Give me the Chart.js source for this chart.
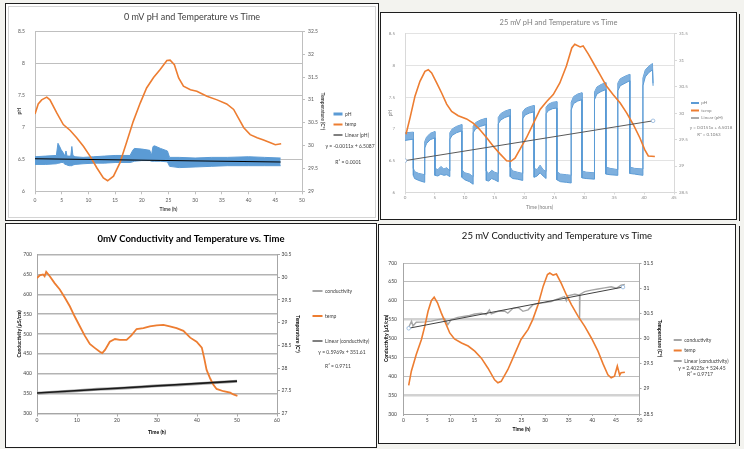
<!DOCTYPE html>
<html><head><meta charset="utf-8">
<script src="https://cdn.jsdelivr.net/npm/chart.js@4/dist/chart.umd.min.js"></script>
<style>
html,body{margin:0;padding:0;width:744px;height:449px;overflow:hidden;background:#f3f3ef;}
.panel{position:absolute;background:#fff;border:1px solid #1e1e1e;box-sizing:border-box;}
.panel canvas{position:absolute;left:0;top:0;}
.inner{position:absolute;left:2px;top:2px;right:2px;bottom:2px;border:1px solid #d4d4d4;}
.vline{position:absolute;border-left:1px solid #1e1e1e;width:0;}
</style></head><body>
<div class="panel" style="left:5px;top:3px;width:374px;height:218px"><div class="inner"></div><canvas id="c1" width="372" height="216"></canvas></div>
<div class="panel" style="left:380px;top:12px;width:357px;height:208px"><canvas id="c2" width="355" height="206"></canvas></div>
<div class="vline" style="left:739px;top:14px;height:207px"></div>
<div class="panel" style="left:5px;top:223px;width:372px;height:225px"><canvas id="c3" width="370" height="223"></canvas></div>
<div class="panel" style="left:378px;top:224px;width:358px;height:220px"><canvas id="c4" width="356" height="218"></canvas></div>
<div class="vline" style="left:739px;top:226px;height:220px"></div>
<script>
// ---------- Panel 1: 0 mV pH and Temperature vs Time ----------
const p1TempTime = [0,0.6,1.25,2.2,2.8,4.1,5.3,6.6,7.8,9.1,10.3,11.6,12.8,13.6,14.7,15.9,17.2,18.4,19.7,20.9,22.2,23.4,24.7,25.3,26.1,26.9,27.8,29.1,30.3,32.2,34.1,35.9,37.2,38.1,39.1,40.3,41.6,42.8,44.1,45,46.1];
const p1Temp = [30.69,30.91,31.0,31.06,31.0,30.71,30.46,30.33,30.17,29.98,29.77,29.51,29.29,29.23,29.33,29.62,30.09,30.53,30.93,31.26,31.49,31.66,31.86,31.87,31.77,31.48,31.30,31.22,31.19,31.08,31.0,30.91,30.79,30.60,30.39,30.24,30.17,30.12,30.06,30.02,30.04];
const p1PhTime = [0,2,4.0,4.3,4.5,4.9,5.3,5.6,5.8,6.0,6.4,6.7,6.9,7.1,7.5,9,11,13,15,17.8,18.3,18.6,20,21.5,21.8,22.1,22.4,23.5,24.8,25.2,27,30,33,36,40,43,46];
const p1PhHigh = [6.54,6.55,6.56,6.75,6.72,6.65,6.60,6.55,6.63,6.55,6.55,6.55,6.70,6.56,6.54,6.53,6.54,6.55,6.56,6.56,6.64,6.67,6.66,6.64,6.56,6.70,6.71,6.67,6.63,6.53,6.53,6.52,6.53,6.53,6.54,6.53,6.52];
const p1PhLow = [6.42,6.42,6.43,6.44,6.44,6.45,6.45,6.42,6.42,6.41,6.40,6.40,6.40,6.41,6.42,6.43,6.44,6.44,6.45,6.45,6.46,6.47,6.48,6.48,6.47,6.47,6.47,6.47,6.46,6.39,6.37,6.38,6.39,6.40,6.40,6.40,6.40];
const p1TrendTime = [0,46];
const p1Trend = [6.5087,6.4581];
const p1Equation = ['y = -0.0011x + 6.5087','R\u00b2 = 0.0001'];

// ---------- Panel 2: 25 mV pH and Temperature vs Time ----------
const p2TempTime = [0.17,0.84,1.67,2.5,3.34,3.9,4.46,5.3,6.13,6.97,7.8,8.9,10.3,11.4,12.5,13.7,14.8,15.9,17.0,17.7,18.4,19.2,20.3,21.5,22.6,23.7,24.8,25.9,27.0,27.9,28.4,29.3,29.8,30.7,31.8,32.6,33.7,34.8,36.0,37.1,38.2,39.3,40.1,40.7,41.8];
const p2Temp = [29.60,29.91,30.32,30.60,30.79,30.82,30.76,30.57,30.38,30.17,30.03,29.95,29.89,29.81,29.69,29.53,29.37,29.23,29.10,29.09,29.15,29.31,29.53,29.81,30.07,30.22,30.35,30.57,30.89,31.23,31.30,31.25,31.27,31.11,30.89,30.73,30.51,30.35,30.19,30.0,29.78,29.53,29.31,29.19,29.18];
const p2PhTime = [0,1.4,1.4,1.6,2.3,3.3,3.3,3.6,4.2,5.0,5.0,5.5,6.0,6.5,7.0,7.5,7.5,7.9,8.6,9.5,9.5,10.0,10.8,11.4,11.4,11.8,12.6,13.6,13.6,14.0,14.5,15.0,15.6,15.6,16.0,16.7,17.6,17.6,18.0,18.8,19.7,19.7,20.1,20.8,21.6,21.6,22.1,22.6,23.1,23.6,23.6,24.0,24.7,25.4,25.4,26.0,27.0,27.8,27.8,28.2,28.9,29.6,29.6,30.3,31.7,31.7,32.1,32.8,33.6,33.6,34.3,35.6,35.6,36.0,36.8,37.6,37.6,38.4,39.8,39.8,40.2,40.8,41.4,41.5];
const p2PhHigh = [6.94,6.95,6.38,6.33,6.30,6.28,6.80,6.87,6.93,6.96,6.38,6.36,6.41,6.37,6.39,6.34,6.94,7.00,7.04,7.07,6.36,6.31,6.29,6.25,7.04,7.10,7.14,7.17,6.34,6.30,6.35,6.32,6.30,7.18,7.24,7.28,7.31,6.40,6.34,6.32,6.30,7.27,7.32,7.35,7.37,6.38,6.36,6.43,6.36,6.33,7.34,7.39,7.42,7.43,6.33,6.29,6.28,6.27,7.42,7.51,7.55,7.57,6.34,6.32,6.31,7.58,7.66,7.70,7.73,6.40,6.38,6.36,7.72,7.79,7.83,7.86,6.40,6.38,6.37,7.80,7.93,7.99,8.03,7.72];
const p2PhLow = [6.82,6.84,6.27,6.22,6.19,6.16,6.70,6.77,6.83,6.86,6.27,6.26,6.29,6.27,6.28,6.25,6.84,6.90,6.94,6.97,6.24,6.20,6.17,6.13,6.94,7.00,7.04,7.07,6.19,6.18,6.22,6.20,6.17,7.08,7.14,7.18,7.21,6.25,6.22,6.21,6.19,7.16,7.22,7.25,7.27,6.24,6.26,6.31,6.26,6.22,7.24,7.29,7.32,7.33,6.20,6.17,6.16,6.15,7.30,7.40,7.44,7.46,6.23,6.22,6.21,7.46,7.55,7.59,7.62,6.29,6.28,6.27,7.60,7.68,7.72,7.76,6.30,6.29,6.27,7.68,7.82,7.89,7.93,7.68];
const p2TrendTime = [0,41.5];
const p2Trend = [6.5018,7.1285];
const p2Equation = ['y = 0.0151x + 6.5018','R\u00b2 = 0.1063'];

// ---------- Panel 3: 0mV Conductivity and Temperature vs. Time ----------
const p3TempTime = [0,0.7,1.5,1.9,2.3,3.2,4.4,5.7,6.9,8.2,9.4,10.7,11.9,13.2,14.5,15.7,16.3,17.0,18.2,19.5,20.7,22.4,23.6,24.9,26.6,28.2,29.9,31.6,33.2,34.9,36.6,38.3,39.9,41.2,41.8,42.4,43.3,44.1,44.9,46.6,48.3,49.1,50.1];
const p3Temp = [29.98,30.04,30.06,30.02,30.12,30.02,29.87,29.73,29.56,29.36,29.14,28.92,28.72,28.53,28.44,28.36,28.33,28.40,28.58,28.64,28.62,28.62,28.72,28.86,28.88,28.92,28.94,28.95,28.92,28.88,28.82,28.67,28.58,28.45,28.22,27.96,27.77,27.63,27.54,27.49,27.46,27.42,27.39];
const p3CondTime = [0,5,10,15,20,25,30,35,40,45,50];
const p3Cond = [351,354,357,361,363,366,370,372,375,378,381];
const p3TrendTime = [0,50];
const p3Trend = [351.61,381.46];
const p3Equation = ['y = 0.5969x + 351.61','R\u00b2 = 0.9711'];

// ---------- Panel 4: 25 mV Conductivity and Temperature vs Time ----------
const p4TempTime = [1.1,1.66,2.7,3.8,4.5,5.2,5.9,6.5,7.2,8.0,8.9,9.8,10.8,12.3,13.7,15.1,16.5,17.9,19.3,20.0,20.7,22.1,23.5,24.9,26.4,27.4,28.5,29.6,30.5,31.0,31.7,32.4,33.4,34.5,35.6,37.0,38.4,39.8,41.2,42.3,43.3,44.0,44.7,45.3,45.8,46.1,46.9];
const p4Temp = [29.07,29.35,29.68,29.98,30.24,30.54,30.75,30.82,30.71,30.51,30.31,30.11,29.99,29.91,29.85,29.75,29.61,29.41,29.18,29.12,29.15,29.38,29.68,29.98,30.18,30.38,30.67,31.04,31.27,31.30,31.26,31.28,31.10,30.87,30.67,30.44,30.24,30.01,29.75,29.49,29.28,29.22,29.25,29.45,29.27,29.32,29.33];
const p4CondTime = [1.1,1.7,2.0,2.7,4.5,5.9,7.3,8.7,9.4,10.1,11.5,13.0,14.0,15.1,16.5,17.5,18.2,18.6,20.0,21.4,22.1,23.2,24.3,25.3,26.4,27.4,28.5,29.9,31.3,32.7,34.1,34.5,34.8,36.3,37.3,37.3,37.4,38.4,39.8,41.2,42.6,44.0,45.1,46.1,46.9];
const p4Cond = [530,546,533,543,544,546,550,553,537,550,556,559,561,565,567,563,576,565,572,573,567,580,582,572,576,589,593,595,598,605,611,600,613,617,615,550,617,624,628,631,634,637,633,641,643];
const p4TrendTime = [1.1,46.5];
const p4Trend = [527.1,636.2];
const p4Equation = ['y = 2.4025x + 524.45','R\u00b2 = 0.9717'];

const BLUE = '#5b9bd5', ORANGE = '#ed7d31';
Chart.defaults.font.family = "Lato, 'Open Sans', sans-serif";

function xy(xs, ys) { return xs.map((x, i) => ({x: x, y: ys[i]})); }
const fmt = v => String(Math.round(v * 100) / 100);

const eqPlugin = {
  id: 'eqText',
  afterDraw(chart, args, o) {
    if (!o || !o.items) return;
    const c = chart.ctx;
    c.save();
    c.font = o.font; c.fillStyle = o.color; c.textAlign = 'center'; c.textBaseline = 'middle';
    o.items.forEach(it => c.fillText(it.text, it.x, it.y));
    c.restore();
  }
};
// fixes the width of the right-hand legend box so the plot area lands where the reference has it
const legendWidthPlugin = {
  id: 'legendWidth',
  beforeLayout(chart, args, o) {
    const lg = chart.legend;
    if (lg && o && o.width && !lg._fixedWidth) {
      const orig = lg.fit;
      lg.fit = function () { orig.call(this); this.width = o.width; };
      lg._fixedWidth = true;
    }
  }
};
Chart.register(eqPlugin, legendWidthPlugin);

function build(id, s) {
  const items = s.legend.map(it => ({text: it.text, strokeStyle: it.color, fillStyle: it.color, lineWidth: it.width,
    pointStyle: 'line', hidden: false, fontColor: s.legendColor}));
  return new Chart(document.getElementById(id), {
    type: 'line',
    data: {datasets: s.datasets},
    options: {
      responsive: false, animation: false, events: [],
      layout: {padding: 0},
      elements: {point: {radius: 0}, line: {tension: 0}},
      scales: {
        x: {
          type: 'linear', min: s.x.min, max: s.x.max,
          ticks: {stepSize: s.x.step, autoSkip: false, maxRotation: 0, padding: s.x.tickPad, color: s.tickColor, font: {size: s.fs}, callback: fmt},
          grid: {drawOnChartArea: false, drawTicks: true, tickLength: s.x.tickLen, color: s.axisColor},
          border: {display: true, color: s.axisColor},
          title: {display: true, text: s.x.title, color: s.axisTitleColor, font: {size: s.afs, weight: s.aw}, padding: {top: 0, bottom: s.x.titlePad}},
          afterFit: sc => { sc.height = s.x.h; }
        },
        y: {
          type: 'linear', position: 'left', min: s.y.min, max: s.y.max,
          ticks: {stepSize: s.y.step, padding: s.y.tickPad, color: s.tickColor, font: {size: s.fs}, callback: fmt},
          grid: {drawTicks: false, color: s.gridColor, lineWidth: s.gridWidth},
          border: {display: true, color: s.axisColor},
          title: {display: true, text: s.y.title, color: s.axisTitleColor, font: {size: s.afs, weight: s.aw}, padding: {top: s.y.titlePad, bottom: 0}},
          afterFit: sc => { sc.width = s.y.w; }
        },
        y2: {
          type: 'linear', position: 'right', min: s.y2.min, max: s.y2.max,
          ticks: {stepSize: s.y2.step, padding: s.y2.tickPad, color: s.tickColor, font: {size: s.fs}, callback: fmt},
          grid: {drawOnChartArea: false, drawTicks: true, tickLength: s.y2.tickLen, color: s.axisColor},
          border: {display: true, color: s.axisColor},
          title: {display: !!s.y2.title, text: s.y2.title || '', color: s.axisTitleColor, font: {size: s.afs, weight: s.aw}, padding: {top: s.y2.titlePad, bottom: 0}},
          afterFit: sc => { sc.width = s.y2.w; }
        }
      },
      plugins: {
        tooltip: {enabled: false},
        title: {display: true, text: s.title.text, color: s.title.color,
          font: {size: s.title.size, weight: s.title.weight, lineHeight: 1.2},
          padding: {top: s.title.padTop, bottom: s.title.padBot}},
        legend: {
          display: true, position: 'right', align: 'start',
          title: {display: true, text: '', font: {size: 1, lineHeight: 1.2}, padding: (s.lg.top - 1.2) / 2},
          labels: {usePointStyle: true, pointStyle: 'line', pointStyleWidth: s.lg.box, boxHeight: s.lg.fs,
            padding: s.lg.pad, color: s.legendColor, font: {size: s.lg.fs}, generateLabels: () => items}
        },
        legendWidth: {width: s.lg.width},
        eqText: {font: s.eq.font, color: s.legendColor, items: s.eq.items}
      }
    }
  });
}

// Panel 1
build('c1', {
  fs: 5, afs: 5, aw: 'bold',
  tickColor: '#595959', axisTitleColor: '#404040', legendColor: '#404040',
  axisColor: '#bfbfbf', gridColor: '#bfbfbf', gridWidth: 1,
  title: {text: '0 mV pH and Temperature vs Time', color: '#404040', size: 9, weight: 'normal', padTop: 7.6, padBot: 8.9},
  x: {min: 0, max: 50, step: 5, tickLen: 3, tickPad: 3, h: 28.7, title: 'Time (h)', titlePad: 8},
  y: {min: 6, max: 8.5, step: 0.5, w: 29, tickPad: 10, title: 'pH', titlePad: 10},
  y2: {min: 29, max: 32.5, step: 0.5, w: 26, tickLen: 3, tickPad: 3, title: 'Temperature (C\u00b0)', titlePad: 2},
  lg: {width: 50, fs: 5, box: 9, pad: 5.5, top: 102},
  legend: [{text: 'pH', color: BLUE, width: 3}, {text: 'temp', color: ORANGE, width: 2}, {text: 'Linear (pH)', color: '#000', width: 1}],
  eq: {font: "5px Lato, sans-serif", items: [{text: p1Equation[0], x: 344, y: 142.5}, {text: p1Equation[1], x: 342.3, y: 158}]},
  datasets: [
    {label: 'pH', data: xy(p1PhTime, p1PhHigh), yAxisID: 'y', borderColor: BLUE, borderWidth: 1, fill: false, order: 3},
    {label: 'pH low', data: xy(p1PhTime, p1PhLow), yAxisID: 'y', borderColor: BLUE, borderWidth: 1, backgroundColor: BLUE, fill: '-1', order: 2},
    {label: 'temp', data: xy(p1TempTime, p1Temp), yAxisID: 'y2', borderColor: ORANGE, borderWidth: 1.6, fill: false, order: 1},
    {label: 'Linear (pH)', data: xy(p1TrendTime, p1Trend), yAxisID: 'y', borderColor: '#000', borderWidth: 1.2, fill: false, order: 0}
  ]
});

// Panel 2
build('c2', {
  fs: 4.5, afs: 5, aw: 'normal',
  tickColor: '#8c8c8c', axisTitleColor: '#7f7f7f', legendColor: '#7f7f7f',
  axisColor: '#d9d9d9', gridColor: '#e3e3e3', gridWidth: 1,
  title: {text: '25 mV pH and Temperature vs Time', color: '#808080', size: 7.5, weight: 'normal', padTop: 5.5, padBot: 6.2},
  x: {min: 0, max: 45, step: 5, tickLen: 2, tickPad: 0.5, h: 26.5, title: 'Time (hours)', titlePad: 8.8},
  y: {min: 6, max: 8.5, step: 0.5, w: 24, tickPad: 10, title: 'pH', titlePad: 6},
  y2: {min: 28.5, max: 31.5, step: 0.5, w: 14, tickLen: 3, tickPad: 2, title: '', titlePad: 0},
  lg: {width: 48, fs: 4.5, box: 8, pad: 3, top: 84.75},
  legend: [{text: 'pH', color: BLUE, width: 2}, {text: 'temp', color: ORANGE, width: 2}, {text: 'Linear (pH)', color: '#595959', width: 1}],
  eq: {font: "4.5px Lato, sans-serif", items: [{text: p2Equation[0], x: 330, y: 115}, {text: p2Equation[1], x: 328, y: 122}]},
  datasets: [
    {label: 'pH', data: xy(p2PhTime, p2PhHigh), yAxisID: 'y', borderColor: BLUE, borderWidth: 1, fill: false, order: 3},
    {label: 'pH low', data: xy(p2PhTime, p2PhLow), yAxisID: 'y', borderColor: BLUE, borderWidth: 1, backgroundColor: '#7fb0de', fill: '-1', order: 2},
    {label: 'temp', data: xy(p2TempTime, p2Temp), yAxisID: 'y2', borderColor: ORANGE, borderWidth: 1.6, fill: false, order: 1},
    {label: 'Linear (pH)', data: xy(p2TrendTime, p2Trend), yAxisID: 'y', borderColor: '#595959', borderWidth: 1, fill: false, order: 0,
      pointRadius: 1.8, pointBorderColor: '#8fb4dc', pointBackgroundColor: '#fff', pointBorderWidth: 0.8}
  ]
});

// Panel 3
build('c3', {
  fs: 5, afs: 5, aw: 'bold',
  tickColor: '#404040', axisTitleColor: '#000', legendColor: '#404040',
  axisColor: '#a6a6a6', gridColor: '#b3b3b3', gridWidth: 1.5,
  title: {text: '0mV Conductivity and Temperature vs. Time', color: '#000', size: 9.5, weight: 'bold', padTop: 9.3, padBot: 9.8},
  x: {min: 0, max: 60, step: 10, tickLen: 3, tickPad: 1, h: 33.5, title: 'Time (h)', titlePad: 12},
  y: {min: 300, max: 700, step: 50, w: 31, tickPad: 5, title: 'Conductivity (\u00b5S/cm)', titlePad: 10},
  y2: {min: 27, max: 30.5, step: 0.5, w: 15.5, tickLen: 3, tickPad: 1.5, title: 'Temperature (C\u00b0)', titlePad: -8.2},
  lg: {width: 83.5, fs: 5, box: 10, pad: 20, top: 44.5},
  legend: [{text: 'conductivity', color: '#a6a6a6', width: 2}, {text: 'temp', color: ORANGE, width: 2}, {text: 'Linear (conductivity)', color: '#000', width: 1.2}],
  eq: {font: "5px Lato, sans-serif", items: [{text: p3Equation[0], x: 336, y: 128}, {text: p3Equation[1], x: 332, y: 142}]},
  datasets: [
    {label: 'conductivity', data: xy(p3CondTime, p3Cond), yAxisID: 'y', borderColor: '#a6a6a6', borderWidth: 3, fill: false, order: 2},
    {label: 'temp', data: xy(p3TempTime, p3Temp), yAxisID: 'y2', borderColor: ORANGE, borderWidth: 1.8, fill: false, order: 1},
    {label: 'Linear (conductivity)', data: xy(p3TrendTime, p3Trend), yAxisID: 'y', borderColor: '#1a1a1a', borderWidth: 1.6, fill: false, order: 0}
  ]
});

// Panel 4
build('c4', {
  fs: 5, afs: 5, aw: 'bold',
  tickColor: '#404040', axisTitleColor: '#000', legendColor: '#404040',
  axisColor: '#a6a6a6',
  gridColor: ctx => (ctx.tick && (ctx.tick.value === 550 || ctx.tick.value === 350)) ? '#d2d2d2' : '#bdbdbd',
  gridWidth: ctx => (ctx.tick && (ctx.tick.value === 550 || ctx.tick.value === 350)) ? 2.5 : 1,
  title: {text: '25 mV Conductivity and Temperature vs Time', color: '#111', size: 9.5, weight: 'normal', padTop: 5.3, padBot: 21.3},
  x: {min: 0, max: 50, step: 5, tickLen: 2, tickPad: 1, h: 29, title: 'Time (h)', titlePad: 10.7},
  y: {min: 300, max: 700, step: 50, w: 24.5, tickPad: 6.5, title: 'Conductivity (\u00b5S/cm)', titlePad: 4},
  y2: {min: 28.5, max: 31.5, step: 0.5, w: 28.7, tickLen: 2, tickPad: 2, title: 'Temperature (C\u00b0)', titlePad: 5.9},
  lg: {width: 66.8, fs: 5, box: 8, pad: 5.5, top: 107},
  legend: [{text: 'conductivity', color: '#a6a6a6', width: 2}, {text: 'temp', color: ORANGE, width: 2}, {text: 'Linear (conductivity)', color: '#404040', width: 1}],
  eq: {font: "5px Lato, sans-serif", items: [{text: p4Equation[0], x: 323, y: 143}, {text: p4Equation[1], x: 321, y: 149}]},
  datasets: [
    {label: 'conductivity', data: xy(p4CondTime, p4Cond), yAxisID: 'y', borderColor: '#a6a6a6', borderWidth: 1.4, fill: false, order: 2},
    {label: 'temp', data: xy(p4TempTime, p4Temp), yAxisID: 'y2', borderColor: ORANGE, borderWidth: 1.6, fill: false, order: 1},
    {label: 'Linear (conductivity)', data: xy(p4TrendTime, p4Trend), yAxisID: 'y', borderColor: '#404040', borderWidth: 1, fill: false, order: 0,
      pointRadius: 1.8, pointBorderColor: '#8fb4dc', pointBackgroundColor: '#fff', pointBorderWidth: 0.8}
  ]
});
</script>
</body></html>
